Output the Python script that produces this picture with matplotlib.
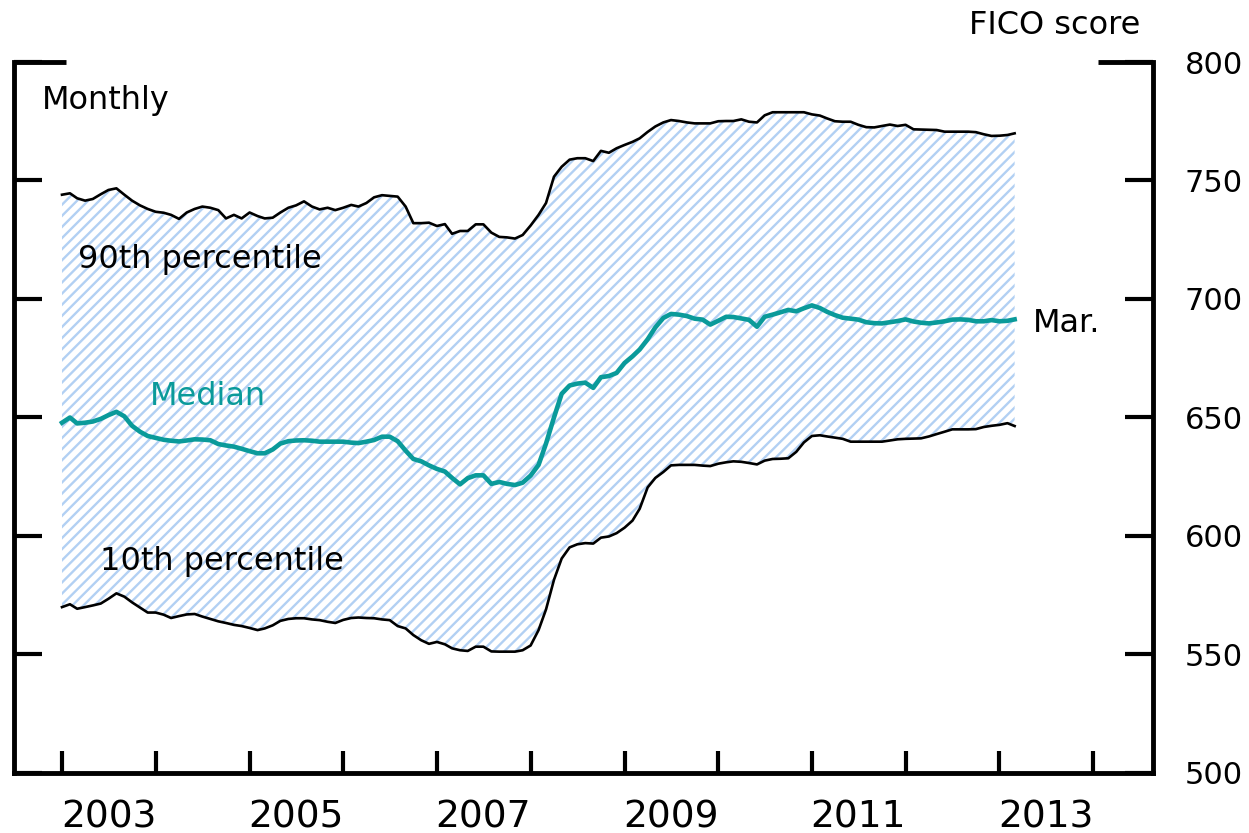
import datetime as dt

import numpy as np
import pandas as pd
import matplotlib
matplotlib.use('Agg')
import matplotlib.pyplot as plt
import matplotlib.dates as mdates
from matplotlib.lines import Line2D

# Monthly FICO scores, Jan 2003 - Mar 2013
months = pd.date_range('2003-01-01', periods=123, freq='MS')

p90 = [
    744.0, 744.6, 742.5, 741.5, 742.2, 744.2, 746.0, 746.7, 744.0, 741.5,
    739.5, 738.0, 736.8, 736.4, 735.5, 733.8, 736.5, 738.0, 739.0, 738.5,
    737.5, 734.0, 735.5, 734.0, 736.5, 735.0, 734.0, 734.3, 736.5, 738.5,
    739.5, 741.2, 739.0, 737.8, 738.5, 737.5, 738.5, 739.7, 739.0, 740.5,
    742.9, 743.8, 743.5, 743.2, 739.0, 732.0, 732.0, 732.2, 730.8, 731.6,
    727.5, 728.7, 728.7, 731.5, 731.5, 728.0, 726.2, 726.0, 725.5, 727.0,
    731.0, 735.5, 740.5, 751.6, 755.8, 758.8, 759.4, 759.4, 758.2, 762.5,
    761.7, 763.6, 765.0, 766.3, 767.8, 770.5, 772.8, 774.5, 775.5, 775.1,
    774.5, 774.1, 774.1, 774.1, 775.0, 775.1, 775.1, 775.8, 774.8, 774.5,
    777.5, 778.8, 778.8, 778.8, 778.8, 778.8, 777.9, 777.4, 776.2, 775.0,
    774.8, 774.8, 773.5, 772.5, 772.4, 773.0, 773.6, 773.0, 773.5, 771.6,
    771.5, 771.4, 771.3, 770.6, 770.6, 770.6, 770.6, 770.4, 769.5, 768.8,
    768.9, 769.2, 769.9,
]

median = [
    647.8, 650.0, 647.5, 647.8, 648.3, 649.4, 651.0, 652.4, 650.5, 646.5,
    644.0, 642.2, 641.4, 640.6, 640.2, 639.9, 640.3, 640.8, 640.7, 640.4,
    638.8, 638.2, 637.7, 636.8, 635.8, 634.9, 634.9, 636.5, 639.0, 640.0,
    640.3, 640.4, 640.2, 639.8, 639.8, 639.8, 639.8, 639.4, 639.2, 639.8,
    640.5, 641.9, 641.9, 640.0, 636.0, 632.5, 631.5, 629.8, 628.3, 627.2,
    624.5, 621.8, 624.4, 625.6, 625.6, 622.0, 622.8, 622.0, 621.5, 622.5,
    625.5, 630.0, 639.0, 650.0, 660.0, 663.5, 664.3, 664.7, 662.5, 667.0,
    667.5, 668.8, 673.0, 675.8, 678.7, 683.0, 688.0, 692.0, 693.7, 693.4,
    692.8, 691.7, 691.3, 689.2, 690.8, 692.5, 692.4, 691.8, 691.2, 688.3,
    692.5, 693.4, 694.4, 695.4, 694.8, 696.1, 697.3, 696.2, 694.6, 693.2,
    692.1, 691.7, 691.3, 690.2, 689.8, 689.7, 690.2, 690.7, 691.4, 690.5,
    690.0, 689.7, 690.1, 690.6, 691.3, 691.4, 691.2, 690.6, 690.6, 691.1,
    690.6, 690.8, 691.4,
]

p10 = [
    570.0, 571.2, 569.3, 570.0, 570.7, 571.5, 573.5, 575.8, 574.4, 572.0,
    569.8, 567.7, 567.7, 566.8, 565.4, 566.2, 566.9, 567.1, 566.0, 565.0,
    564.0, 563.3, 562.5, 562.0, 561.2, 560.3, 561.0, 562.3, 564.2, 565.0,
    565.3, 565.3, 564.8, 564.5, 563.8, 563.3, 564.6, 565.4, 565.6, 565.4,
    565.3, 564.8, 564.5, 562.0, 561.0, 558.2, 556.0, 554.5, 555.3, 554.3,
    552.6, 551.8, 551.5, 553.3, 553.3, 551.3, 551.2, 551.2, 551.2, 551.8,
    553.8, 560.3, 569.0, 581.5, 590.5, 595.2, 596.5, 597.0, 596.8, 599.3,
    599.8, 601.2, 603.5, 606.5, 611.5, 620.5, 624.5, 627.0, 629.8, 630.0,
    630.0, 630.0, 629.7, 629.5, 630.5, 631.1, 631.5, 631.3, 630.8, 630.2,
    631.8, 632.5, 632.6, 632.8, 635.5, 639.5, 642.2, 642.5, 642.0, 641.5,
    641.0, 639.8, 639.8, 639.8, 639.8, 639.8, 640.3, 640.8, 641.0, 641.1,
    641.2, 642.0, 643.0, 644.0, 645.0, 645.0, 645.0, 645.1, 646.0, 646.5,
    646.9, 647.6, 646.4,
]

y_ticks = [500, 550, 600, 650, 700, 750, 800]
label_years = [2003, 2005, 2007, 2009, 2011, 2013]

teal = '#0a9a9a'
hatch_blue = '#b2d0f3'

plt.rcParams['font.family'] = ['DejaVu Sans']
plt.rcParams['hatch.linewidth'] = 1.7

fig = plt.figure(figsize=(12.49, 8.33), dpi=100)
ax = fig.add_axes([0.01121, 0.07203, 0.9119, 0.85354])

# shaded band between 10th and 90th percentile
ax.fill_between(months, p10, p90, facecolor='white', edgecolor=hatch_blue,
                hatch='///', linewidth=0, zorder=1)
ax.plot(months, p90, color='black', lw=1.9, zorder=3)
ax.plot(months, p10, color='black', lw=1.9, zorder=3)
ax.plot(months, median, color=teal, lw=3.3, zorder=4)

ax.set_ylim(500, 800)
ax.set_xlim(dt.date(2002, 6, 28), dt.date(2014, 8, 22))

# frame: left, bottom, right; only stubs on top
for side in ['left', 'bottom', 'right']:
    ax.spines[side].set_linewidth(3.5)
ax.spines['top'].set_visible(False)
for x0, x1 in [(0, 0.046), (0.952, 1.0)]:
    ax.add_line(Line2D([x0, x1], [1, 1], transform=ax.transAxes,
                       color='black', lw=3.5, clip_on=False,
                       solid_capstyle='butt'))

ax.set_yticks(y_ticks)
ax.tick_params(axis='y', which='major', direction='in', length=20, width=3,
               left=True, right=True, labelleft=False, labelright=True,
               labelsize=22, pad=23)

ax.xaxis.set_major_locator(mdates.YearLocator())
ax.xaxis.set_major_formatter(plt.NullFormatter())
ax.set_xticks([dt.date(y, 7, 1) for y in label_years], minor=True)
ax.set_xticklabels([str(y) for y in label_years], minor=True)
ax.tick_params(axis='x', which='major', direction='in', length=16, width=3)
ax.tick_params(axis='x', which='minor', length=0, labelsize=27, pad=19)

# annotations
txt = dict(transform=ax.transAxes, fontsize=23, va='baseline')
ax.text(0.0246, 0.9339, 'Monthly', **txt)
ax.text(0.0562, 0.7103, '90th percentile', **txt)
ax.text(0.1194, 0.5176, 'Median', color=teal, **txt)
ax.text(0.0755, 0.2855, '10th percentile', **txt)
ax.text(0.8947, 0.6203, 'Mar.', **txt)
fig.text(0.8447, 0.9592, 'FICO score', fontsize=23, ha='center', va='baseline')

fig.savefig('out.png', dpi=100)
